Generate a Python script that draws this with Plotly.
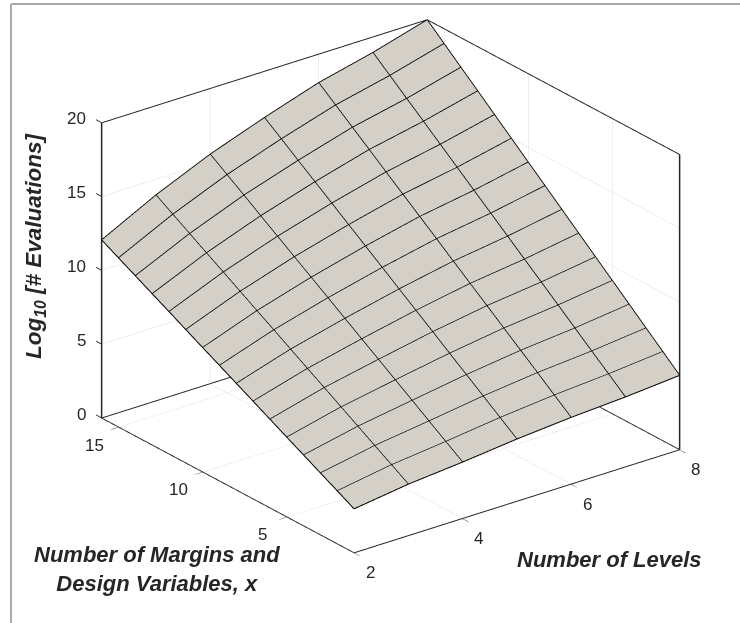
import plotly.graph_objects as go

levels = [2, 3, 4, 5, 6, 7, 8]
margins = list(range(1, 17))

z_L2 = [2.98,3.59,4.19,4.80,5.40,6.01,6.62,7.22,7.83,8.43,9.04,9.65,10.25,10.86,11.46,12.07]
z_L3 = [3.49,4.19,4.88,5.58,6.28,6.98,7.67,8.37,9.07,9.76,10.46,11.16,11.85,12.55,13.25,13.95]
z_L4 = [3.82,4.60,5.38,6.17,6.95,7.73,8.51,9.29,10.08,10.86,11.64,12.42,13.20,13.99,14.77,15.55]
z_L5 = [4.22,5.06,5.91,6.75,7.59,8.44,9.28,10.12,10.97,11.81,12.65,13.50,14.34,15.18,16.03,16.87]
z_L6 = [4.52,5.42,6.33,7.23,8.13,9.04,9.94,10.84,11.75,12.65,13.55,14.45,15.36,16.26,17.16,18.07]
z_L7 = [4.74,5.69,6.63,7.58,8.53,9.48,10.42,11.37,12.32,13.26,14.21,15.16,16.11,17.05,18.00,18.95]
z_L8 = [5.04,6.04,7.03,8.03,9.03,10.02,11.02,12.02,13.02,14.01,15.01,16.01,17.01,18.00,19.00,20.00]

x_ticks = [2, 4, 6, 8]
y_ticks = [5, 10, 15]
z_ticks = [0, 5, 10, 15, 20]
x_range = [2, 8]
y_range = [1, 16]
z_range = [0, 20]

columns = [z_L2, z_L3, z_L4, z_L5, z_L6, z_L7, z_L8]
Z = [list(r) for r in zip(*columns)]

FONT = "Liberation Sans, Arial, sans-serif"
DARK = "#262626"
SURF = "#D4D0C8"
TICK_SIZE = 17

fig = go.Figure()
fig.add_surface(
    x=levels, y=margins, z=Z,
    colorscale=[[0, SURF], [1, SURF]], showscale=False, hoverinfo="skip",
    lighting=dict(ambient=1, diffuse=0, specular=0, roughness=1, fresnel=0),
    contours=dict(
        x=dict(show=True, start=2.002, end=7.998, size=0.99933, color="#000000", width=3, highlight=False),
        y=dict(show=True, start=1.005, end=15.995, size=0.99933, color="#000000", width=3, highlight=False),
        z=dict(show=False, highlight=False),
    ),
)

# mesh lines and outline, from the same values
wx, wy, wz = [], [], []
for i, L in enumerate(levels):
    wx += [L] * len(margins) + [None]
    wy += margins + [None]
    wz += columns[i] + [None]
for j, m in enumerate(margins):
    wx += levels + [None]
    wy += [m] * len(levels) + [None]
    wz += [c[j] for c in columns] + [None]
fig.add_scatter3d(x=wx, y=wy, z=wz, mode="lines", line=dict(color="#000000", width=2),
                  hoverinfo="skip", showlegend=False)

x0, x1 = x_range
y0, y1 = y_range
z0, z1 = z_range
# axes box edges: floor and the two rear top edges (thin), then side verticals (thick)
fig.add_scatter3d(
    x=[x0, x1, x1, x0, x0, None, x0, x1, x1],
    y=[y0, y0, y1, y1, y0, None, y1, y1, y0],
    z=[z0, z0, z0, z0, z0, None, z1, z1, z1],
    mode="lines", line=dict(color=DARK, width=2), hoverinfo="skip", showlegend=False,
)
fig.add_scatter3d(
    x=[x0, x0, None, x1, x1],
    y=[y1, y1, None, y0, y0],
    z=[z0, z1, None, z0, z1],
    mode="lines", line=dict(color=DARK, width=3), hoverinfo="skip", showlegend=False,
)


def axis(rng, ticks, pad, show_ticks=True):
    return dict(
        range=[rng[0] - pad, rng[1] + pad], autorange=False, tickvals=ticks,
        title=dict(text=""), showbackground=False, showgrid=True, gridcolor="#DCDCDC", gridwidth=1,
        showline=False, zeroline=False, showspikes=False, showticklabels=False,
        ticks="outside" if show_ticks else "", ticklen=9, tickwidth=1, tickcolor=DARK,
    )


def label(x, y, z, text, **kw):
    return dict(x=x, y=y, z=z, text=text, showarrow=False,
                font=dict(family=FONT, size=TICK_SIZE, color=DARK), **kw)


scene_notes = []
for t in x_ticks:
    scene_notes.append(label(t, y0, z0, str(t), xanchor="center", yanchor="middle", xshift=16, yshift=-20))
for t in y_ticks:
    scene_notes.append(label(x0, t, z0, str(t), xanchor="center", yanchor="middle", xshift=-24, yshift=-18))
for t in z_ticks:
    scene_notes.append(label(x0, y1, t, str(t), xanchor="right", yanchor="middle", xshift=-14, yshift=4))
    scene_notes.append(dict(x=x0, y=y1, z=t, text=" ", showarrow=True, arrowhead=0, arrowwidth=1,
                            arrowcolor=DARK, ax=-7, ay=-4, font=dict(size=1)))

EYE = (-0.556, -0.722, 0.411)
DIST = 1.2
CENTER = (-0.0729, 0.0140, -0.0737)

fig.update_layout(
    width=740, height=623, margin=dict(l=0, r=0, t=0, b=0),
    paper_bgcolor="white", showlegend=False,
    font=dict(family=FONT, color=DARK),
    scene=dict(
        domain=dict(x=[0, 1], y=[0, 1]),
        xaxis=axis(x_range, x_ticks, 0.004),
        yaxis=axis(y_range, y_ticks, 0.01),
        zaxis=axis(z_range, z_ticks, 0.013, show_ticks=False),
        aspectmode="manual",
        aspectratio=dict(x=1.321, y=1.33, z=1.041),
        annotations=scene_notes,
        camera=dict(
            projection=dict(type="orthographic"),
            up=dict(x=0, y=0, z=1),
            center=dict(x=CENTER[0], y=CENTER[1], z=CENTER[2]),
            eye=dict(x=CENTER[0] + EYE[0] * DIST, y=CENTER[1] + EYE[1] * DIST, z=CENTER[2] + EYE[2] * DIST),
        ),
    ),
    shapes=[
        dict(type="line", xref="paper", yref="paper", x0=11 / 740, x1=11 / 740, y0=0, y1=1 - 4 / 623,
             line=dict(color="#AAAAAA", width=2)),
        dict(type="line", xref="paper", yref="paper", x0=11 / 740, x1=1, y0=1 - 4 / 623, y1=1 - 4 / 623,
             line=dict(color="#AAAAAA", width=2)),
    ],
    annotations=[
        dict(text="<b><i>Number of Margins and<br>Design Variables, x</i></b>", x=157 / 740, y=1 - 568.5 / 623,
             xref="paper", yref="paper", xanchor="center", yanchor="middle", showarrow=False,
             font=dict(family=FONT, size=22, color=DARK), align="center"),
        dict(text="<b><i>Number of Levels</i></b>", x=609 / 740, y=1 - 559 / 623,
             xref="paper", yref="paper", xanchor="center", yanchor="middle", showarrow=False,
             font=dict(family=FONT, size=22, color=DARK)),
        dict(text="<b><i>Log<sub>10</sub> [# Evaluations]</i></b>", x=35 / 740, y=1 - 246 / 623,
             xref="paper", yref="paper", xanchor="center", yanchor="middle", showarrow=False, textangle=-90,
             font=dict(family=FONT, size=22.5, color=DARK)),
    ],
)
fig.write_html("out.html", post_script="document.body.style.margin='0';", config={"displayModeBar": False})
